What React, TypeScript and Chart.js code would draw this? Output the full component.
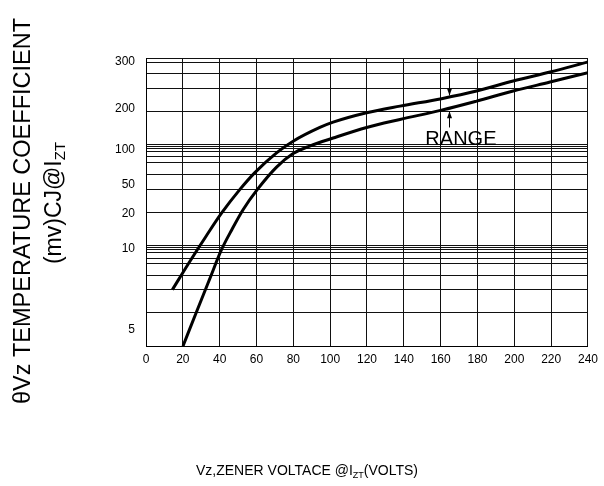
import React, { useEffect, useRef } from 'react';
import { Chart, registerables, LinearScale } from 'chart.js';

Chart.register(...registerables);

// ---------------- data ----------------
const X_TICKS = [0, 20, 40, 60, 80, 100, 120, 140, 160, 180, 200, 220, 240];
const Y_LABELS = [300, 200, 100, 50, 20, 10, 5];
const Y_GRID = [309, 300, 276.2, 243.2, 193.4, 111.5, 108, 101.7, 96.7, 89.6, 81, 64.7, 44.8, 21.3,
  10.93, 10.45, 9.96, 9.81, 9.44, 9.08, 8.375, 7.46, 6.04, 4];

// upper limit of the range
const UPPER_X = [14.3, 23.7, 32.8, 41.0, 50.9, 59.1, 70.9, 79.9, 94.4, 101.6, 119.8, 137.9, 160.5, 179.5, 199.4, 219.4, 240];
const UPPER_Y = [7.46, 9.21, 13.77, 20.5, 44.8, 67.1, 95.3, 120.2, 153.7, 166.6, 189.5, 205, 221, 237.4, 259, 278.4, 300];
// lower limit of the range
const LOWER_X = [20.1, 27.4, 34.6, 41.0, 46.6, 52.7, 60.4, 70.9, 79.9, 88.9, 101.6, 119.8, 137.9, 160.5, 179.5, 199.4, 219.4, 240];
const LOWER_Y = [4, 6.08, 8.14, 9.96, 15.47, 24.1, 44.8, 75.0, 94.3, 108.5, 128.0, 153.7, 173.2, 195.9, 215.8, 237.4, 256.8, 277.1];

// breakpoints of the (non-uniform) printed y scale
const SCALE_BREAK_VALUES = [4, 5, 10, 20, 50, 100, 200, 300, 309];
const SCALE_BREAK_FRACTIONS = [0, 0.0581, 0.3366, 0.4595, 0.5604, 0.6822, 0.8249, 0.9861, 1];

// "RANGE" annotation (data coordinates)
const RANGE_ARROW_X = 164.5;
const RANGE_UPPER_ARROW = [286, 228];
const RANGE_LOWER_ARROW = [153.7, 193.4];
const RANGE_TEXT_X = 171;
const RANGE_TEXT_Y = 110;

// ---------------- scale ----------------
function interp(v: number, xs: number[], ys: number[]) {
  let i = 0;
  if (v <= xs[0]) i = 0;
  else if (v >= xs[xs.length - 1]) i = xs.length - 2;
  else {
    while (i < xs.length - 2 && v > xs[i + 1]) i++;
  }
  const t = (v - xs[i]) / (xs[i + 1] - xs[i]);
  return ys[i] + t * (ys[i + 1] - ys[i]);
}

class BrokenScale extends LinearScale {
  static id = 'broken';
  buildTicks() {
    const t: any[] = Y_GRID.map((v) => ({ value: v, isGrid: true }));
    Y_LABELS.forEach((v) => t.push({ value: v, isLabel: true }));
    return t;
  }
  getPixelForValue(value: number) {
    return this.getPixelForDecimal(interp(value, SCALE_BREAK_VALUES, SCALE_BREAK_FRACTIONS));
  }
  getValueForPixel(pixel: number) {
    return interp(this.getDecimalForPixel(pixel), SCALE_BREAK_FRACTIONS, SCALE_BREAK_VALUES);
  }
}
Chart.register(BrokenScale as any);

const FONT = 'Arial, "Liberation Sans", sans-serif';

type Part = { t: string; sub?: boolean };

function drawRich(ctx: CanvasRenderingContext2D, parts: Part[], size: number) {
  const subSize = Math.round(size * 0.66);
  const widths = parts.map((p) => {
    ctx.font = `${p.sub ? subSize : size}px ${FONT}`;
    return ctx.measureText(p.t).width;
  });
  const total = widths.reduce((a, b) => a + b, 0);
  let x = -total / 2;
  parts.forEach((p, i) => {
    ctx.font = `${p.sub ? subSize : size}px ${FONT}`;
    ctx.fillText(p.t, x, p.sub ? size * 0.18 : 0);
    x += widths[i];
  });
}

const decorPlugin = {
  id: 'decor',
  afterDraw(chart: any) {
    const ctx: CanvasRenderingContext2D = chart.ctx;
    const xs = chart.scales.x;
    const ys = chart.scales.y;
    ctx.save();
    ctx.fillStyle = '#000';
    ctx.strokeStyle = '#000';
    ctx.textAlign = 'left';
    ctx.textBaseline = 'alphabetic';

    // y title
    ctx.save();
    ctx.translate(30, 211);
    ctx.rotate(-Math.PI / 2);
    drawRich(ctx, [{ t: 'θVz TEMPERATURE COEFFICIENT' }], 23.5);
    ctx.restore();
    ctx.save();
    ctx.translate(61, 203);
    ctx.rotate(-Math.PI / 2);
    drawRich(ctx, [{ t: '(mv)CJ@I' }, { t: 'ZT', sub: true }], 23);
    ctx.restore();

    // x title
    ctx.save();
    ctx.translate(307, 475);
    drawRich(ctx, [{ t: 'Vz,ZENER VOLTACE @I' }, { t: 'ZT', sub: true }, { t: '(VOLTS)' }], 14);
    ctx.restore();

    // RANGE annotation
    ctx.save();
    ctx.translate(xs.getPixelForValue(RANGE_TEXT_X), ys.getPixelForValue(RANGE_TEXT_Y));
    drawRich(ctx, [{ t: 'RANGE' }], 20);
    ctx.restore();

    const ax = Math.round(xs.getPixelForValue(RANGE_ARROW_X)) + 0.5;
    const arrow = (from: number, to: number) => {
      const y0 = ys.getPixelForValue(from);
      const y1 = ys.getPixelForValue(to);
      const dir = y1 > y0 ? 1 : -1;
      ctx.lineWidth = 1;
      ctx.beginPath();
      ctx.moveTo(ax, y0);
      ctx.lineTo(ax, y1);
      ctx.stroke();
      ctx.beginPath();
      ctx.moveTo(ax, y1);
      ctx.lineTo(ax - 2.5, y1 - dir * 7);
      ctx.lineTo(ax + 2.5, y1 - dir * 7);
      ctx.closePath();
      ctx.fill();
    };
    arrow(RANGE_UPPER_ARROW[0], RANGE_UPPER_ARROW[1]);
    arrow(RANGE_LOWER_ARROW[0], RANGE_LOWER_ARROW[1]);
    ctx.restore();
  },
};

export default function App() {
  const ref = useRef<HTMLCanvasElement | null>(null);
  useEffect(() => {
    if (!ref.current) return;
    const toPts = (xa: number[], ya: number[]) => xa.map((x, i) => ({ x, y: ya[i] }));
    const chart = new Chart(ref.current, {
      type: 'line',
      data: {
        datasets: [
          {
            label: 'upper',
            data: toPts(UPPER_X, UPPER_Y),
            borderColor: '#000',
            borderWidth: 3,
            pointRadius: 0,
            cubicInterpolationMode: 'monotone',
            fill: false,
          },
          {
            label: 'lower',
            data: toPts(LOWER_X, LOWER_Y),
            borderColor: '#000',
            borderWidth: 3,
            pointRadius: 0,
            cubicInterpolationMode: 'monotone',
            fill: false,
          },
        ],
      },
      options: {
        animation: false,
        responsive: false,
        maintainAspectRatio: false,
        events: [],
        layout: { padding: { left: 0, right: 16, top: 58, bottom: 0 } },
        plugins: { legend: { display: false }, tooltip: { enabled: false }, title: { display: false } },
        scales: {
          x: {
            type: 'linear',
            min: 0,
            max: 240,
            afterBuildTicks: (s: any) => {
              s.ticks = X_TICKS.map((v) => ({ value: v }));
            },
            afterFit: (s: any) => {
              s.height = 140;
            },
            ticks: {
              autoSkip: false,
              maxRotation: 0,
              padding: 6,
              color: '#000',
              font: { family: FONT, size: 12 },
              callback: (v: any) => String(v),
            },
            grid: { color: '#111', lineWidth: 1, drawTicks: false },
            border: { color: '#000', width: 1 },
          },
          y: {
            type: 'broken' as any,
            min: 4,
            max: 309,
            afterFit: (s: any) => {
              s.width = 146;
            },
            ticks: {
              autoSkip: false,
              padding: 11,
              color: '#000',
              font: { family: FONT, size: 12 },
              callback: function (this: any, v: any, i: number, ticks: any[]) {
                return ticks[i] && ticks[i].isLabel ? String(v) : '';
              },
            },
            grid: {
              drawTicks: false,
              lineWidth: 1,
              color: (c: any) => (c.tick && c.tick.isGrid ? '#111' : 'rgba(0,0,0,0)'),
            },
            border: { color: '#000', width: 1 },
          },
        },
      } as any,
      plugins: [decorPlugin],
    });
    return () => chart.destroy();
  }, []);
  return (
    <div style={{ position: 'absolute', left: 0, top: 0, width: 604, height: 486, background: '#fff' }}>
      <canvas ref={ref} width={604} height={486} style={{ width: 604, height: 486 }} />
    </div>
  );
}
